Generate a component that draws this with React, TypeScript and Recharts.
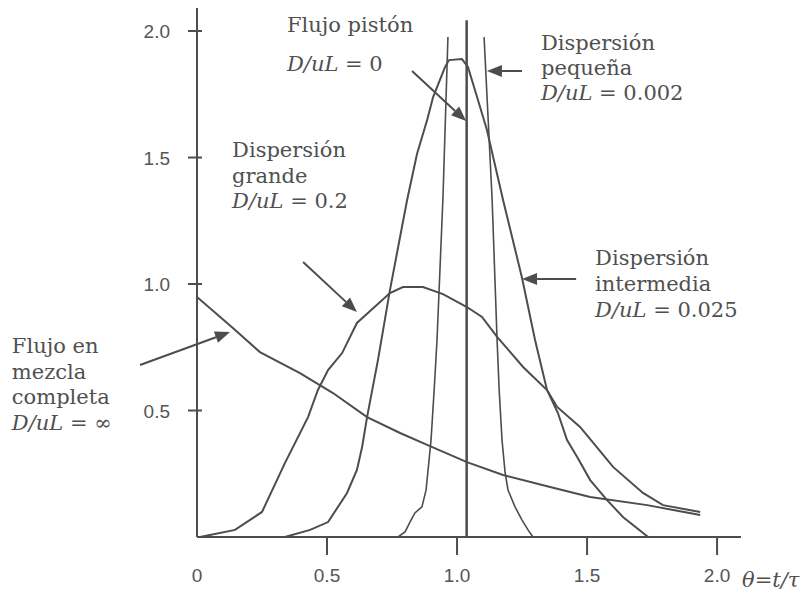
import { LineChart, Line, XAxis, YAxis, ReferenceLine, ReferenceDot } from 'recharts';

// ticks and their printed labels
const xTicks = [0, 0.5, 1, 1.5, 2];
const xTickLabels = ['0', '0.5', '1.0', '1.5', '2.0'];
const yTicks = [0.5, 1, 1.5, 2];
const yTickLabels = ['0.5', '1.0', '1.5', '2.0'];

// E(θ) curves
const mezclaCompleta = [
  { t: 0, e: 0.949 }, { t: 0.138, e: 0.826 }, { t: 0.242, e: 0.731 }, { t: 0.396, e: 0.648 },
  { t: 0.523, e: 0.569 }, { t: 0.654, e: 0.474 }, { t: 0.781, e: 0.411 }, { t: 0.885, e: 0.364 },
  { t: 1.038, e: 0.296 }, { t: 1.177, e: 0.245 }, { t: 1.358, e: 0.198 }, { t: 1.512, e: 0.158 },
  { t: 1.731, e: 0.126 }, { t: 1.935, e: 0.087 },
];

const dispersionGrande = [
  { t: 0.012, e: 0 }, { t: 0.031, e: 0.004 }, { t: 0.146, e: 0.028 }, { t: 0.25, e: 0.099 },
  { t: 0.338, e: 0.292 }, { t: 0.427, e: 0.474 }, { t: 0.465, e: 0.581 }, { t: 0.504, e: 0.66 },
  { t: 0.558, e: 0.727 }, { t: 0.615, e: 0.846 }, { t: 0.742, e: 0.964 }, { t: 0.792, e: 0.988 },
  { t: 0.869, e: 0.988 }, { t: 0.946, e: 0.96 }, { t: 1.038, e: 0.909 }, { t: 1.096, e: 0.87 },
  { t: 1.154, e: 0.791 }, { t: 1.254, e: 0.672 }, { t: 1.346, e: 0.581 }, { t: 1.385, e: 0.514 },
  { t: 1.473, e: 0.435 }, { t: 1.512, e: 0.387 }, { t: 1.6, e: 0.277 }, { t: 1.715, e: 0.174 },
  { t: 1.792, e: 0.126 }, { t: 1.935, e: 0.099 },
];

const dispersionIntermedia = [
  { t: 0.338, e: 0 }, { t: 0.435, e: 0.028 }, { t: 0.504, e: 0.059 }, { t: 0.577, e: 0.174 },
  { t: 0.615, e: 0.265 }, { t: 0.635, e: 0.356 }, { t: 0.654, e: 0.474 }, { t: 0.696, e: 0.7 },
  { t: 0.742, e: 0.976 }, { t: 0.808, e: 1.332 }, { t: 0.846, e: 1.514 }, { t: 0.885, e: 1.648 },
  { t: 0.908, e: 1.739 }, { t: 0.954, e: 1.858 }, { t: 0.969, e: 1.885 }, { t: 1.019, e: 1.889 },
  { t: 1.042, e: 1.858 }, { t: 1.077, e: 1.739 }, { t: 1.115, e: 1.609 }, { t: 1.177, e: 1.332 },
  { t: 1.25, e: 1.024 }, { t: 1.3, e: 0.779 }, { t: 1.346, e: 0.581 }, { t: 1.388, e: 0.49 },
  { t: 1.423, e: 0.383 }, { t: 1.462, e: 0.316 }, { t: 1.512, e: 0.225 }, { t: 1.577, e: 0.146 },
  { t: 1.638, e: 0.079 }, { t: 1.735, e: 0 },
];

// the peak runs off the top, so the two flanks are drawn apart
const dispersionPequena = [
  { t: 0.773, e: 0 }, { t: 0.8, e: 0.02 }, { t: 0.819, e: 0.059 }, { t: 0.838, e: 0.095 },
  { t: 0.865, e: 0.119 }, { t: 0.881, e: 0.186 }, { t: 0.9, e: 0.383 }, { t: 0.912, e: 0.581 },
  { t: 0.923, e: 0.779 }, { t: 0.946, e: 1.344 }, { t: 0.965, e: 1.976 },
  { t: 1.035, e: null },
  { t: 1.104, e: 1.976 }, { t: 1.135, e: 1.332 }, { t: 1.154, e: 0.779 }, { t: 1.162, e: 0.581 },
  { t: 1.173, e: 0.383 }, { t: 1.185, e: 0.253 }, { t: 1.196, e: 0.186 }, { t: 1.223, e: 0.119 },
  { t: 1.25, e: 0.067 }, { t: 1.273, e: 0.028 }, { t: 1.292, e: 0 }, { t: 1.385, e: 0 },
];

const flujoPiston = [{ t: 1.037, e: 0 }, { t: 1.037, e: 2.043 }];

// annotation arrows (tail -> head) and text blocks, in data units
const flechas = [
  { desde: { x: 0.827, y: 1.842 }, hasta: { x: 1.035, y: 1.644 } },
  { desde: { x: 1.25, y: 1.842 }, hasta: { x: 1.115, y: 1.842 } },
  { desde: { x: 0.408, y: 1.087 }, hasta: { x: 0.615, y: 0.889 } },
  { desde: { x: 1.458, y: 1.02 }, hasta: { x: 1.25, y: 1.02 } },
  { desde: { x: -0.219, y: 0.68 }, hasta: { x: 0.127, y: 0.81 } },
];

const rotulos = [
  { t: 0.346, e: 1.996, lineas: ['Flujo pistón', 'D/uL = 0'], interlinea: 39 },
  { t: 1.323, e: 1.925, lineas: ['Dispersión', 'pequeña', 'D/uL = 0.002'], interlinea: 25 },
  { t: 0.135, e: 1.502, lineas: ['Dispersión', 'grande', 'D/uL = 0.2'], interlinea: 25.5 },
  { t: 1.531, e: 1.075, lineas: ['Dispersión', 'intermedia', 'D/uL = 0.025'], interlinea: 26 },
  { t: -0.712, e: 0.727, lineas: ['Flujo en', 'mezcla', 'completa', 'D/uL = ∞'], interlinea: 25.7 },
];

const INK = '#4d4d4d';
const SERIF = '"DejaVu Serif", "Liberation Serif", serif';
const SANS = '"Liberation Sans", Arial, sans-serif';

const TickX = ({ x, y, payload }: any) => {
  const label = xTickLabels[xTicks.indexOf(payload.value)];
  return (
    <g>
      {payload.value !== 0 && <line x1={x} y1={y} x2={x} y2={y + 18} stroke={INK} strokeWidth={2} />}
      <text x={x} y={y + 45} textAnchor="middle" fontFamily={SANS} fontSize={19} fill="#555">
        {label}
      </text>
    </g>
  );
};

const TickY = ({ x, y, payload }: any) => {
  const label = yTickLabels[yTicks.indexOf(payload.value)];
  return (
    <g>
      <line x1={x - 9} y1={y} x2={x + 5} y2={y} stroke={INK} strokeWidth={2} />
      <text x={x - 27} y={y + 7} textAnchor="end" fontFamily={SANS} fontSize={19} fill="#555">
        {label}
      </text>
    </g>
  );
};

const Flecha = ({ x1, y1, x2, y2 }: any) => {
  const ang = Math.atan2(y2 - y1, x2 - x1);
  const largo = 15;
  const ancho = 6;
  const bx = x2 - largo * Math.cos(ang);
  const by = y2 - largo * Math.sin(ang);
  const px = -Math.sin(ang) * ancho;
  const py = Math.cos(ang) * ancho;
  return (
    <g>
      <line x1={x1} y1={y1} x2={bx} y2={by} stroke={INK} strokeWidth={2} />
      <polygon points={`${x2},${y2} ${bx + px},${by + py} ${bx - px},${by - py}`} fill={INK} />
    </g>
  );
};

const Rotulo = ({ cx, cy, lineas, interlinea }: any) => (
  <text fontFamily={SERIF} fontSize={21} fill="#505050">
    {lineas.map((l: string, i: number) => {
      const m = l.match(/^D\/uL(.*)$/);
      return (
        <tspan key={i} x={cx} y={cy + i * interlinea}>
          {m ? (
            <>
              <tspan fontStyle="italic">D/uL</tspan>
              {m[1]}
            </>
          ) : (
            l
          )}
        </tspan>
      );
    })}
  </text>
);

const EtiquetaEje = ({ viewBox }: any) => (
  <text
    x={viewBox.x + viewBox.width + 1}
    y={viewBox.y + 50}
    fontFamily={SERIF}
    fontStyle="italic"
    fontSize={21}
    fill="#505050"
  >
    θ=t/τ
  </text>
);

export default function App() {
  return (
    <div style={{ position: 'absolute', left: 0, top: 0, background: '#fff' }}>
      <LineChart width={805} height={592} margin={{ top: 8, right: 64, bottom: 0, left: 0 }}>
        <XAxis
          type="number"
          dataKey="t"
          domain={[0, 2.092]}
          ticks={xTicks}
          height={55}
          tickSize={0}
          tickMargin={0}
          tickLine={false}
          tick={<TickX />}
          axisLine={{ stroke: INK, strokeWidth: 2 }}
          allowDataOverflow
          label={{ content: <EtiquetaEje /> } as any}
        />
        <YAxis
          type="number"
          domain={[0, 2.091]}
          ticks={yTicks}
          width={197}
          tickSize={0}
          tickMargin={0}
          tickLine={false}
          tick={<TickY />}
          axisLine={{ stroke: INK, strokeWidth: 2 }}
          allowDataOverflow
        />
        <Line data={mezclaCompleta} dataKey="e" type="linear" stroke={INK} strokeWidth={2} dot={false} activeDot={false} isAnimationActive={false} />
        <Line data={dispersionGrande} dataKey="e" type="linear" stroke={INK} strokeWidth={2} dot={false} activeDot={false} isAnimationActive={false} />
        <Line data={dispersionIntermedia} dataKey="e" type="linear" stroke={INK} strokeWidth={2} dot={false} activeDot={false} isAnimationActive={false} />
        <Line data={dispersionPequena} dataKey="e" type="linear" stroke={INK} strokeWidth={1.6} dot={false} activeDot={false} connectNulls={false} isAnimationActive={false} />
        <Line data={flujoPiston} dataKey="e" type="linear" stroke={INK} strokeWidth={2.5} dot={false} activeDot={false} isAnimationActive={false} />
        {flechas.map((f, i) => (
          <ReferenceLine
            key={`f${i}`}
            segment={[f.desde, f.hasta]}
            ifOverflow="visible"
            shape={(p: any) => <Flecha {...p} />}
          />
        ))}
        {rotulos.map((r, i) => (
          <ReferenceDot
            key={`r${i}`}
            x={r.t}
            y={r.e}
            r={0}
            ifOverflow="visible"
            shape={(p: any) => <Rotulo {...p} lineas={r.lineas} interlinea={r.interlinea} />}
          />
        ))}
      </LineChart>
    </div>
  );
}
